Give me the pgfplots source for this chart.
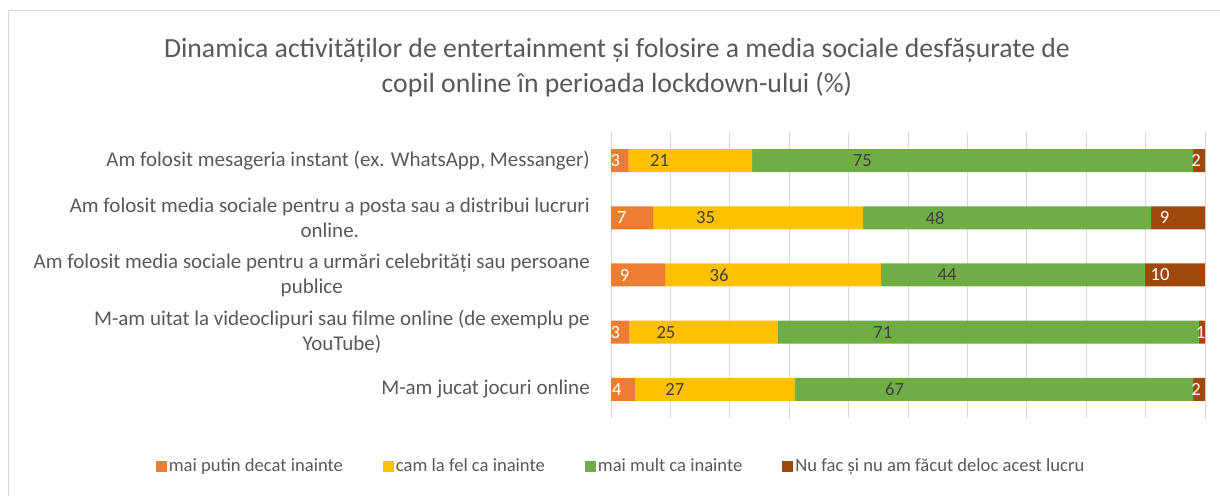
\documentclass[border=0pt]{standalone}
\usepackage{pgfplots}
\pgfplotsset{compat=1.18}
\usepackage{pgfplotstable}
\usepackage{fontspec}
\setmainfont{Carlito}
\definecolor{cOr}{HTML}{ED7D31}
\definecolor{cYe}{HTML}{FFC000}
\definecolor{cGr}{HTML}{70AD47}
\definecolor{cBr}{HTML}{9E480E}
\definecolor{txt}{HTML}{595959}
\definecolor{lbl}{HTML}{404040}
\definecolor{grd}{HTML}{D9D9D9}
\pgfplotstableread{
y a b c d
0 4 27 67 2
1 3 25 71 1
2 9 36 44 10
3 7 35 48 9
4 3 21 75 2
}\data
\def\tot{(\thisrow{a}+\thisrow{b}+\thisrow{c}+\thisrow{d})}
\begin{document}
\begin{tikzpicture}[x=1pt,y=1pt]
\useasboundingbox (0,0) rectangle (1220,495);
\draw[grd, line width=1pt] (8.5,-5) -- (8.5,484.5) -- (1225,484.5);
\node[txt, font=\fontsize{27.7}{32}\selectfont, anchor=base] at (617,437) {Dinamica activităților de entertainment și folosire a media sociale desfășurate de};
\node[txt, font=\fontsize{27.7}{32}\selectfont, anchor=base] at (617,402) {copil online în perioada lockdown-ului (\%)};
\begin{axis}[
  at={(611pt,77pt)}, anchor=south west,
  scale only axis, width=594pt, height=286pt,
  xbar stacked, bar width=23pt,
  xmin=0, xmax=100, ymin=-0.5, ymax=4.5,
  xtick={0,10,...,100}, xticklabels={},
  xmajorgrids, major grid style={grd, line width=1pt},
  ytick={0,...,4},
  yticklabels={{M-am jucat jocuri online},
    {M-am uitat la videoclipuri sau filme online (de exemplu pe\\YouTube)},
    {Am folosit media sociale pentru a urmări celebrități sau persoane\\publice},
    {Am folosit media sociale pentru a posta sau a distribui lucruri\\online.},
    {Am folosit mesageria instant (ex. WhatsApp, Messanger)}},
  yticklabel style={align=center, text=txt, font=\fontsize{21}{25}\selectfont, inner sep=0pt, xshift=-21pt},
  axis line style={draw=none},
  tick style={draw=none},
  clip=false,
  point meta=explicit symbolic,
  nodes near coords,
  every node near coord/.append style={font=\fontsize{18.6}{22}\selectfont, anchor=center, inner sep=0pt},
  legend style={at={(0.017,-0.168)}, anchor=center, draw=none, fill=none,
    font=\fontsize{18.6}{22}\selectfont, text=txt, inner sep=0pt,
    /tikz/every even column/.append style={column sep=38pt},
    nodes={inner sep=2pt}, cells={anchor=west}},
  legend columns=4,
  every axis plot post/.append style={draw=none,
    legend image code/.code={\fill[##1] (0pt,-5.5pt) rectangle (11pt,5.5pt);}},
]
\addplot[fill=cOr, draw=none, visualization depends on={1.485*\thisrow{a}*100/\tot \as \hw},
  every node near coord/.append style={text=white, xshift=-\hw pt}]
  table[x expr=\thisrow{a}*100/\tot, y=y, meta=a] {\data};
\addplot[fill=cYe, draw=none, visualization depends on={1.485*\thisrow{b}*100/\tot \as \hw},
  every node near coord/.append style={text=lbl, xshift=-\hw pt}]
  table[x expr=\thisrow{b}*100/\tot, y=y, meta=b] {\data};
\addplot[fill=cGr, draw=none, visualization depends on={1.485*\thisrow{c}*100/\tot \as \hw},
  every node near coord/.append style={text=lbl, xshift=-\hw pt}]
  table[x expr=\thisrow{c}*100/\tot, y=y, meta=c] {\data};
\addplot[fill=cBr, draw=none, visualization depends on={1.485*\thisrow{d}*100/\tot \as \hw},
  every node near coord/.append style={text=white, xshift=-\hw pt}]
  table[x expr=\thisrow{d}*100/\tot, y=y, meta=d] {\data};
\legend{mai putin decat inainte, cam la fel ca inainte, mai mult ca inainte, Nu fac și nu am făcut deloc acest lucru}
\end{axis}
\end{tikzpicture}
\end{document}
